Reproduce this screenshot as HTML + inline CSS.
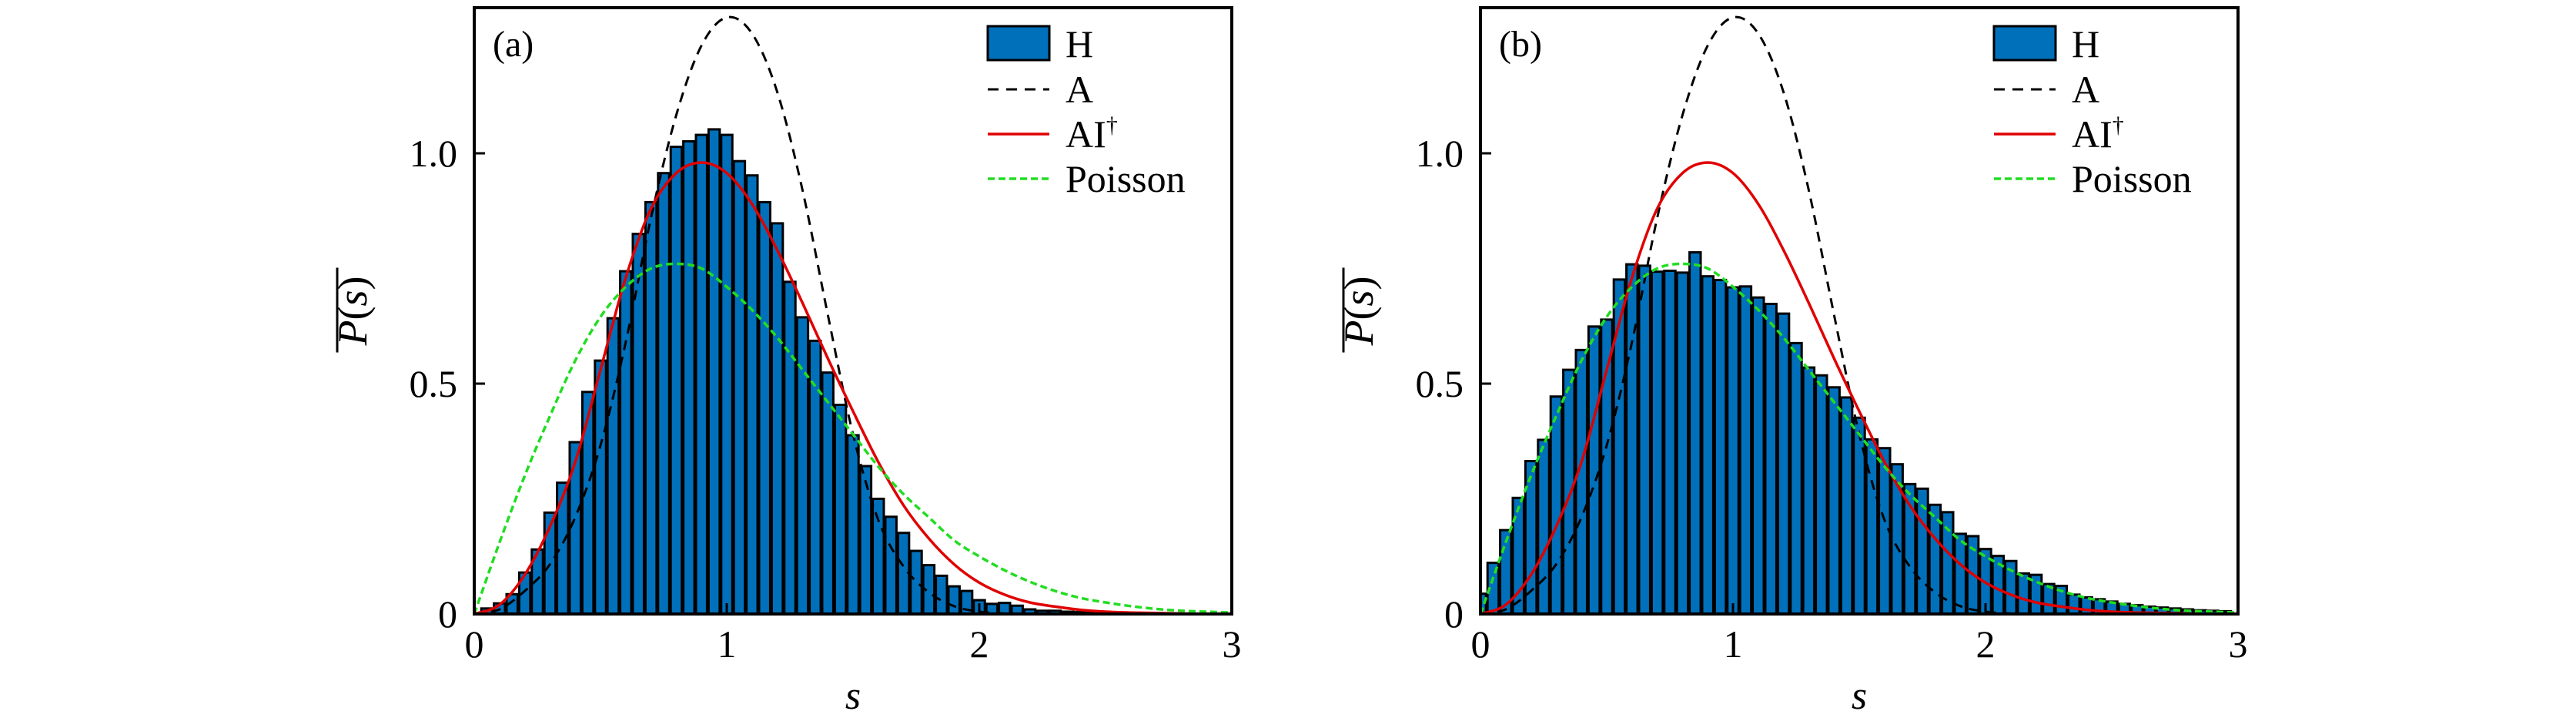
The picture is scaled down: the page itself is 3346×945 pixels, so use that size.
<!DOCTYPE html>
<html><head><meta charset="utf-8">
<style>
html,body{margin:0;padding:0;background:#fff;}
svg{display:block;}
text{font-family:"Liberation Serif","DejaVu Serif",serif;fill:#000;}
</style></head>
<body>
<svg id="fig" width="3346" height="945" viewBox="0 0 3346 945" xmlns="http://www.w3.org/2000/svg"></svg>
<script>
// ---- data ----
const binCentersA = [0.05,0.1,0.15,0.2,0.25,0.3,0.35,0.4,0.45,0.5,0.55,0.6,0.65,0.7,0.75,0.8,0.85,0.9,0.95,1.0,1.05,1.1,1.15,1.2,1.25,1.3,1.35,1.4,1.45,1.5,1.55,1.6,1.65,1.7,1.75,1.8,1.85,1.9,1.95,2.0,2.05,2.1,2.15,2.2,2.25,2.3,2.35,2.4,2.45,2.5];
const histA = [0.012,0.023,0.043,0.09,0.14,0.22,0.285,0.373,0.482,0.55,0.642,0.744,0.825,0.894,0.957,1.014,1.026,1.040,1.052,1.040,0.983,0.952,0.894,0.848,0.721,0.644,0.593,0.524,0.454,0.388,0.321,0.25,0.211,0.176,0.137,0.106,0.083,0.060,0.05,0.03,0.022,0.024,0.018,0.010,0.007,0.007,0.005,0.004,0.003,0.002];
const binCentersB = [0,0.05,0.1,0.15,0.2,0.25,0.3,0.35,0.4,0.45,0.5,0.55,0.6,0.65,0.7,0.75,0.8,0.85,0.9,0.95,1.0,1.05,1.1,1.15,1.2,1.25,1.3,1.35,1.4,1.45,1.5,1.55,1.6,1.65,1.7,1.75,1.8,1.85,1.9,1.95,2.0,2.05,2.1,2.15,2.2,2.25,2.3,2.35,2.4,2.45,2.5,2.55,2.6,2.65,2.7,2.75,2.8,2.85,2.9,2.95];
const histB = [0.044,0.111,0.182,0.252,0.332,0.378,0.472,0.530,0.573,0.624,0.639,0.726,0.759,0.756,0.743,0.745,0.741,0.785,0.733,0.725,0.709,0.711,0.687,0.673,0.652,0.588,0.535,0.518,0.492,0.470,0.426,0.379,0.360,0.325,0.282,0.272,0.237,0.221,0.174,0.169,0.141,0.126,0.115,0.088,0.085,0.065,0.061,0.042,0.036,0.032,0.027,0.022,0.019,0.016,0.014,0.012,0.010,0.008,0.007,0.006];
const curveS = [0,0.1,0.2,0.3,0.4,0.5,0.6,0.7,0.8,0.9,1.0,1.1,1.2,1.3,1.4,1.5,1.6,1.7,1.8,1.9,2.0,2.1,2.2,2.3,2.4,2.5,2.6,2.7,2.8,2.9,3.0];
const curveA = [0,0.01,0.05,0.108,0.21,0.366,0.59,0.86,1.083,1.234,1.295,1.26,1.133,0.92,0.65,0.39,0.204,0.103,0.047,0.017,0.005,0.001,0,0,0,0,0,0,0,0,0];
const curveAI = [0,0.02,0.085,0.19,0.33,0.53,0.73,0.88,0.957,0.98,0.957,0.89,0.79,0.675,0.555,0.44,0.33,0.236,0.164,0.108,0.068,0.042,0.025,0.016,0.009,0.005,0.003,0.002,0.001,0,0];
const curveP = [0,0.155,0.30,0.43,0.55,0.645,0.71,0.75,0.76,0.75,0.71,0.66,0.60,0.53,0.46,0.39,0.32,0.26,0.21,0.16,0.125,0.095,0.07,0.05,0.035,0.025,0.017,0.011,0.007,0.005,0.003];
const xTicks = [0,1,2,3];
const xTickLabels = ["0","1","2","3"];
const yTicks = [0,0.5,1.0];
const yTickLabels = ["0","0.5","1.0"];
const legendLabels = ["H","A","AI","Poisson"];

// ---- drawing ----
const NS="http://www.w3.org/2000/svg";
const svg=document.getElementById('fig');
function el(tag,attrs,parent){const e=document.createElementNS(NS,tag);for(const k in attrs)e.setAttribute(k,attrs[k]);(parent||svg).appendChild(e);return e;}
function smoothPath(xs,ys){
  let d='M'+xs[0].toFixed(1)+','+ys[0].toFixed(1);
  for(let i=0;i<xs.length-1;i++){
    const x0=xs[Math.max(i-1,0)],y0=ys[Math.max(i-1,0)],x1=xs[i],y1=ys[i],x2=xs[i+1],y2=ys[i+1],x3=xs[Math.min(i+2,xs.length-1)],y3=ys[Math.min(i+2,xs.length-1)];
    const c1x=x1+(x2-x0)/6,c1y=y1+(y2-y0)/6,c2x=x2-(x3-x1)/6,c2y=y2-(y3-y1)/6;
    d+=' C'+c1x.toFixed(1)+','+c1y.toFixed(1)+' '+c2x.toFixed(1)+','+c2y.toFixed(1)+' '+x2.toFixed(1)+','+y2.toFixed(1);
  }
  return d;
}
function panel(id,left,right,centers,hist,label){
  const top=10,bottom=797,xmin=0,xmax=3,ymax=(bottom-top)/598;
  const xs=v=>left+(v-xmin)/(xmax-xmin)*(right-left);
  const ys=v=>bottom-v/ymax*(bottom-top);
  const g=el('g',{});
  
  
  const cp=el('clipPath',{id:'clip'+id},g);
  el('rect',{x:left,y:top,width:right-left,height:bottom-top},cp);
  const bars=el('g',{'clip-path':'url(#clip'+id+')'},g);
  
  
  const bw=0.044;
  centers.forEach((c,i)=>{
    const x0=xs(c-bw/2),x1=xs(c+bw/2);
    const r=el('rect',{x:x0,y:ys(hist[i]),width:x1-x0,height:ys(0)-ys(hist[i]),fill:'#0070bb',stroke:'#000','stroke-width':3},bars);
    
    
  });
  const curves=el('g',{'clip-path':'url(#clip'+id+')',fill:'none'},g);
  const pxs=curveS.map(xs);
  const pA=el('path',{d:smoothPath(pxs,curveA.map(ys)),stroke:'#000','stroke-width':3,'stroke-dasharray':'13 9'},curves);
  
  
  const pAI=el('path',{d:smoothPath(pxs,curveAI.map(ys)),stroke:'#e00000','stroke-width':3.5},curves);
  
  
  const pP=el('path',{d:smoothPath(pxs,curveP.map(ys)),stroke:'#22dd22','stroke-width':3.5,'stroke-dasharray':'9 5'},curves);
  
  
  const fr=el('rect',{x:left,y:top,width:right-left,height:bottom-top,fill:'none',stroke:'#000','stroke-width':4},g);
  
  
  xTicks.forEach((t,i)=>{
    el('line',{x1:xs(t),x2:xs(t),y1:bottom,y2:bottom-14,stroke:'#000','stroke-width':3},g);
    const tx=el('text',{x:xs(t),y:853,'font-size':50,'text-anchor':'middle'},g);
    tx.textContent=xTickLabels[i];
    
    
  });
  yTicks.forEach((t,i)=>{
    el('line',{x1:left,x2:left+14,y1:ys(t),y2:ys(t),stroke:'#000','stroke-width':3},g);
    const tx=el('text',{x:left-22,y:ys(t)+17,'font-size':50,'text-anchor':'end'},g);
    tx.textContent=yTickLabels[i];
    
    
  });
  const xl=el('text',{x:(left+right)/2,y:920,'font-size':52,'font-style':'italic','text-anchor':'middle'},g);
  xl.textContent='s';
  
  
  const cy=(top+bottom)/2, cx=left-140;
  const yl=el('text',{x:0,y:0,'font-size':54,'text-anchor':'middle',transform:'translate('+cx+','+cy+') rotate(-90)'},g);
  yl.innerHTML='<tspan font-style="italic">P</tspan>(<tspan font-style="italic">s</tspan>)';
  
  
  el('line',{x1:cx-38,x2:cx-38,y1:cy-56,y2:cy+54,stroke:'#000','stroke-width':3},g);
  const pl=el('text',{x:left+24,y:73,'font-size':48},g);
  pl.textContent=label;
  
  
  const lx=left+667;
  const lg=el('g',{},g);
  
  
  el('rect',{x:lx,y:34,width:80,height:44,fill:'#0070bb',stroke:'#000','stroke-width':3},lg);
  el('line',{x1:lx,x2:lx+80,y1:116,y2:116,stroke:'#000','stroke-width':3,'stroke-dasharray':'14 10'},lg);
  el('line',{x1:lx,x2:lx+80,y1:174,y2:174,stroke:'#e00000','stroke-width':3.5},lg);
  el('line',{x1:lx,x2:lx+80,y1:232,y2:232,stroke:'#22dd22','stroke-width':3.5,'stroke-dasharray':'9 5'},lg);
  const rowsY=[74,133,191,249];
  legendLabels.forEach((s,i)=>{
    const t=el('text',{x:lx+101,y:rowsY[i],'font-size':50},lg);
    t.textContent=s;
    if(i===2){const sp=el('tspan',{'font-size':30,dy:-19},t);sp.textContent='†';}
    
    
  });
}
panel('a',616,1600,binCentersA,histA,'(a)');
panel('b',1923,2907,binCentersB,histB,'(b)');
</script>
</body></html>
